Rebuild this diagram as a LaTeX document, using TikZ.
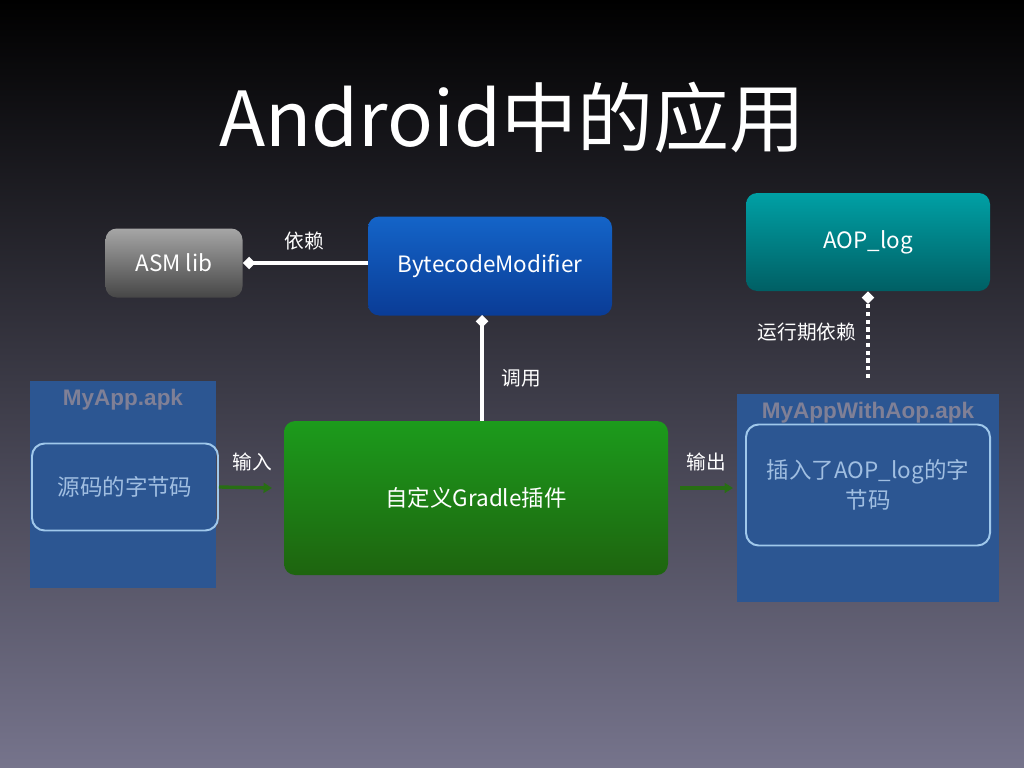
\documentclass[tikz,border=0pt]{standalone}
\usepackage{fontspec}
\setmainfont{Noto Sans CJK SC}
\newfontfamily\boldsans{Liberation Sans}
\usetikzlibrary{arrows.meta}
\definecolor{bgbot}{RGB}{118,116,140}
\definecolor{bgmid}{RGB}{18,18,52}
\definecolor{apkblue}{RGB}{44,86,146}
\definecolor{apklabel}{RGB}{128,128,150}
\definecolor{innerline}{RGB}{160,200,235}
\definecolor{innertext}{RGB}{160,190,225}
\definecolor{arrowgreen}{RGB}{40,110,20}
\definecolor{bcmtop}{RGB}{20,100,200}
\definecolor{bcmbot}{RGB}{10,60,150}
\definecolor{grtop}{RGB}{28,155,28}
\definecolor{grbot}{RGB}{30,100,15}
\definecolor{aoptop}{RGB}{0,160,165}
\definecolor{aopbot}{RGB}{0,95,100}
\tikzset{
    module/.style={rounded corners=8pt, minimum width=#1, align=center, text=white, font=\fontsize{16}{18}\selectfont},
    apk/.style={fill=apkblue, draw=none},
    inner/.style={draw=innerline, line width=1.4pt, rounded corners=9pt, align=center, text=innertext, font=\fontsize{16}{21}\selectfont},
    lbl/.style={text=white, font=\fontsize{14}{16}\selectfont},
    dep/.style={white, line width=2.6pt, -{Diamond[fill=white,length=9pt,width=9pt]}},
    flow/.style={arrowgreen, line width=2.4pt, -{Triangle[length=6pt,width=7pt]}}
}
\begin{document}
\begin{tikzpicture}[x=0.025cm, y=-0.025cm]
    % Hintergrund
    \shade[top color=black, middle color=bgmid, bottom color=bgbot] (0,0) rectangle (1024,768);
    \useasboundingbox (0,0) rectangle (1024,768);
    \node[text=white, font=\fontsize{54}{58}\selectfont] (title) at (512,118) {Android中的应用};
    % Module
    \node[module=137*0.025cm, minimum height=69*0.025cm, top color=gray!70, bottom color=gray!55!black] (asm) at (174,263) {ASM lib};
    \node[module=244*0.025cm, minimum height=99*0.025cm, top color=bcmtop, bottom color=bcmbot] (bcm) at (490,266) {BytecodeModifier};
    \node[module=244*0.025cm, minimum height=98*0.025cm, top color=aoptop, bottom color=aopbot] (aop) at (868,242) {AOP\_log};
    \node[module=384*0.025cm, minimum height=154*0.025cm, top color=grtop, bottom color=grbot] (gradle) at (476,498) {自定义Gradle插件};
    % APKs
    \fill[apk] (30,381) rectangle (216,588);
    \node[text=apklabel, font=\boldsans\bfseries\fontsize{16}{18}\selectfont] (applbl) at (123,400) {MyApp.apk};
    \node[inner, minimum width=186*0.025cm, minimum height=87*0.025cm] (src) at (125,487) {源码的字节码};
    \fill[apk] (737,394) rectangle (999,602);
    \node[inner, minimum width=244*0.025cm, minimum height=121*0.025cm, text width=225*0.025cm] (out) at (868,485) {插入了AOP\_log的字\\节码};
    \node[text=apklabel, font=\boldsans\bfseries\fontsize{16}{18}\selectfont] (outlbl) at (868,413) {MyAppWithAop.apk};
    % Verbindungen
    \coordinate (inend) at (272,488);
    \coordinate (outstart) at (680,488);
    \coordinate (outend) at (733,488);
    \coordinate (rtstart) at (868,378);
    \draw[dep] (bcm.west |- asm) -- (asm.east);
    \node[lbl] (l1) at (304,241) {依赖};
    \draw[dep] (gradle.north -| 482,0) -- (482,315);
    \node[lbl] (l2) at (521,378) {调用};
    \draw[flow] (src.east) -- (inend);
    \node[lbl] (l3) at (252,462) {输入};
    \draw[flow] (outstart) -- (outend);
    \node[lbl] (l4) at (706,462) {输出};
    \draw[white, line width=3pt, dash pattern=on 3pt off 2.5pt] (rtstart) -- (868,300);
    \draw[dep] (868,302) -- (aop.south);
    \node[lbl] (l5) at (807,332) {运行期依赖};
\end{tikzpicture}
\end{document}
